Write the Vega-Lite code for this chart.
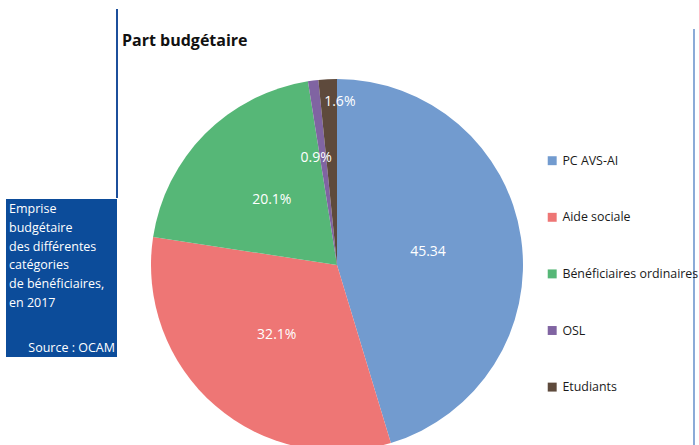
{
  "$schema": "https://vega.github.io/schema/vega-lite/v6.json",
  "padding": {"left": 6, "top": 8, "right": 0, "bottom": 0},
  "spacing": 4,
  "config": {"view": {"stroke": null}, "font": "Open Sans"},
  "hconcat": [
    {
      "spacing": 0,
      "vconcat": [
        {
          "width": 111,
          "height": 189,
          "data": {"values": [{"deco": "bordure"}]},
          "mark": {"type": "rule", "color": "#1c4f9b", "strokeWidth": 2},
          "encoding": {"x": {"value": "width"}}
        },
        {
          "width": 111,
          "height": 158,
          "view": {"fill": "#0c4c9a", "stroke": null},
          "layer": [
            {
              "data": {"values": [{"t": ["Emprise", "budgétaire", "des différentes", "catégories", "de bénéficiaires,", "en 2017"]}]},
              "mark": {"type": "text", "align": "left", "baseline": "alphabetic", "fontSize": 12.5, "lineHeight": 18.8, "color": "white", "font": "Open Sans"},
              "encoding": {"text": {"field": "t"}, "x": {"value": 3}, "y": {"value": 14}}
            },
            {
              "data": {"values": [{"s": "Source : OCAM"}]},
              "mark": {"type": "text", "align": "right", "baseline": "alphabetic", "fontSize": 12.5, "color": "white", "font": "Open Sans", "dx": -2, "dy": -5},
              "encoding": {"text": {"field": "s"}, "x": {"value": "width"}, "y": {"value": "height"}}
            }
          ]
        }
      ]
    },
    {
      "width": 430,
      "height": 512,
      "title": {"text": "Part budgétaire", "anchor": "start", "frame": "group", "offset": -53, "baseline": "alphabetic", "font": "Open Sans", "fontSize": 16, "fontWeight": "bold", "color": "#111111"},
      "data": {"values": [
        {"cat": "PC AVS-AI", "v": 45.34, "lab": "45.34", "k": 1},
        {"cat": "Aide sociale", "v": 32.1, "lab": "32.1%", "k": 2},
        {"cat": "Bénéficiaires ordinaires", "v": 20.1, "lab": "20.1%", "k": 3},
        {"cat": "OSL", "v": 0.9, "lab": "0.9%", "k": 4},
        {"cat": "Etudiants", "v": 1.6, "lab": "1.6%", "k": 5}
      ]},
      "layer": [
        {
          "mark": {"type": "arc", "outerRadius": 186},
          "encoding": {
            "theta": {"field": "v", "type": "quantitative", "stack": true},
            "order": {"field": "k", "type": "quantitative", "sort": "ascending"},
            "color": {
              "field": "cat",
              "type": "nominal",
              "scale": {"domain": ["PC AVS-AI", "Aide sociale", "Bénéficiaires ordinaires", "OSL", "Etudiants"], "range": ["#729bcf", "#ee7675", "#56b777", "#8064a2", "#5e4a3c"]},
              "legend": {"orient": "none", "legendX": 540, "legendY": 145.5, "title": null, "symbolType": "square", "symbolSize": 80, "symbolStrokeWidth": 0, "labelFont": "Open Sans", "labelFontSize": 12.4, "labelColor": "#1a1a1a", "rowPadding": 43.6, "labelOffset": 4, "labelLimit": 300, "padding": 0}
            }
          }
        },
        {
          "mark": {"type": "text", "radius": 92, "fontSize": 14, "font": "Open Sans", "color": "white"},
          "encoding": {
            "theta": {"field": "v", "type": "quantitative", "stack": true},
            "order": {"field": "k", "type": "quantitative", "sort": "ascending"},
            "detail": {"field": "cat", "type": "nominal"},
            "text": {"field": "lab", "type": "nominal"},
            "opacity": {"condition": {"test": "datum.v > 10", "value": 1}, "value": 0}
          }
        },
        {
          "mark": {"type": "text", "radius": 108, "dx": -7, "fontSize": 14, "font": "Open Sans", "color": "white"},
          "encoding": {
            "theta": {"field": "v", "type": "quantitative", "stack": true},
            "order": {"field": "k", "type": "quantitative", "sort": "ascending"},
            "detail": {"field": "cat", "type": "nominal"},
            "text": {"field": "lab", "type": "nominal"},
            "opacity": {"condition": {"test": "datum.cat === 'OSL'", "value": 1}, "value": 0}
          }
        },
        {
          "mark": {"type": "text", "radius": 163, "dx": 11, "fontSize": 14, "font": "Open Sans", "color": "white"},
          "encoding": {
            "theta": {"field": "v", "type": "quantitative", "stack": true},
            "order": {"field": "k", "type": "quantitative", "sort": "ascending"},
            "detail": {"field": "cat", "type": "nominal"},
            "text": {"field": "lab", "type": "nominal"},
            "opacity": {"condition": {"test": "datum.cat === 'Etudiants'", "value": 1}, "value": 0}
          }
        },
        {
          "data": {"values": [{"deco": "bordure"}]},
          "mark": {"type": "rule", "color": "#3f72bd", "strokeWidth": 1.2},
          "encoding": {"x": {"value": 572}, "y": {"value": 20}, "y2": {"value": "height"}}
        }
      ]
    }
  ]
}
